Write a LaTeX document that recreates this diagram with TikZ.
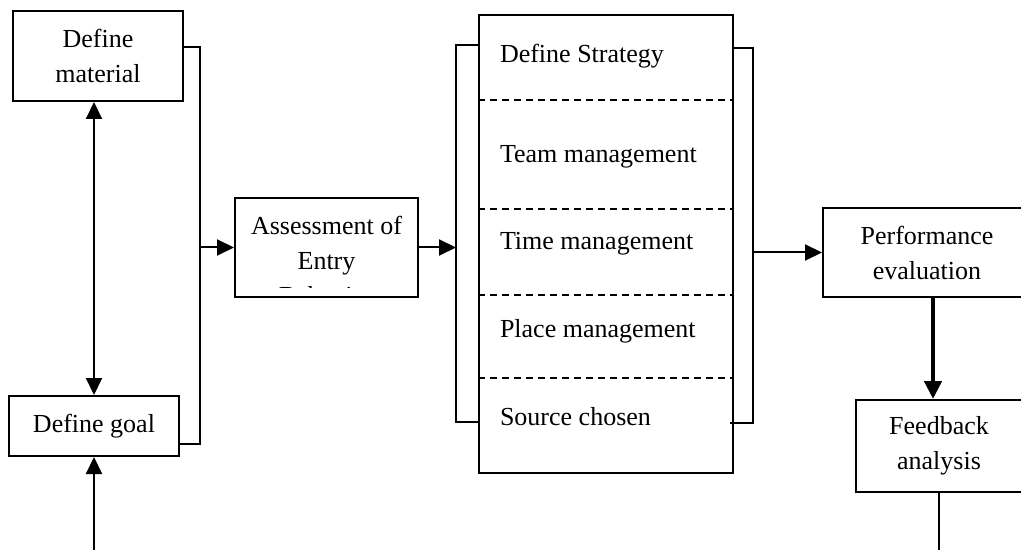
\documentclass[tikz,border=0pt]{standalone}
\usepackage{fontspec}
\setmainfont{Liberation Serif}
\usetikzlibrary{arrows.meta, positioning}

\tikzset{
  divider/.style={dash pattern=on 3.5pt off 2.5pt},
  listtext/.style={anchor=base west, inner sep=0pt}
}

\begin{document}
\begin{tikzpicture}[x=0.5pt,y=-0.5pt,line width=1pt,
  font=\fontsize{13}{17.5}\selectfont,
  >={Triangle[length=8.5pt,width=8pt]}]
\useasboundingbox (0,0) rectangle (1021,550);

\node[draw,
    minimum width=85pt,
    minimum height=45pt,
    align=center] (mat) at (98,56) {Define\\material};

\node[draw,
    minimum width=85pt,
    minimum height=30pt] (goal) at (94,426) {Define goal};

\node[draw,
    minimum width=91.5pt,
    minimum height=49.5pt] (A) at (326.5,247.5) {};
\begin{scope}
\clip ([yshift=5pt]A.south west) rectangle (A.north east);
\node[align=center, yshift=-6.4pt] (At) at (A) {Assessment of\\Entry\\Behavior};
\end{scope}

\node[draw,
    minimum width=127pt,
    minimum height=229pt] (M) at (606,244) {};

\node[listtext] (s1) at (499,63) {Define Strategy};
\node[listtext] (s2) at (499,163) {Team management};
\node[listtext] (s3) at (499,250) {Time management};
\node[listtext] (s4) at (499,337) {Place management};
\node[listtext] (s5) at (499,425) {Source chosen};

\foreach \y in {100,209,295,378}
  \draw[divider] (M.west |- 0,\y) -- (M.east |- 0,\y);

\node[draw,
    minimum width=104pt,
    minimum height=44.5pt,
    align=center] (P) at (927,252.5) {Performance\\evaluation};

\node[draw,
    minimum width=83pt,
    minimum height=46pt,
    align=center] (F) at (939,446) {Feedback\\analysis};

% Brackets
\coordinate (j1) at (200,247.5);
\coordinate (j2) at (456,247.5);
\coordinate (j3) at (753,252.5);
\draw (mat.east |- 0,47) -| (200,444) -- (goal.east |- 0,444);
\draw (M.west |- 0,45) -| (456,422) -- (M.west |- 0,422);
\draw (M.east |- 0,48) -| (753,423) -- (730,423);

% Arrows
\coordinate (in) at (94,550);
\coordinate (out) at (939,550);
\draw [<->] (goal.north |- mat.south) -- (goal.north);
\draw [->] (in) -- (goal.south);
\draw [->] (j1) -- (A);
\draw [->] (A) -- (j2);
\draw [->] (j3) -- (P);
\draw [line width=2.2pt, -{Triangle[length=9pt,width=8.5pt]}] (P.south -| 933,0) -- (F.north -| 933,0);
\draw (F.south) -- (out);
\end{tikzpicture}
\end{document}
